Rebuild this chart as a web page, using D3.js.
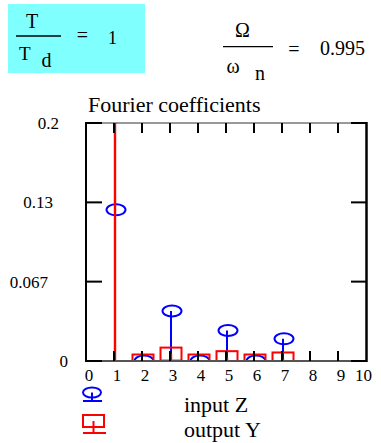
<!DOCTYPE html>
<html>
<head>
<meta charset="utf-8">
<script src="https://cdn.jsdelivr.net/npm/d3@7"></script>
<style>
  body { margin: 0; background: #fff; }
  svg { display: block; }
</style>
</head>
<body>
<svg id="chart" width="381" height="443"></svg>
<script>
// Harmonic numbers and Fourier coefficient magnitudes
const harmonics = [1, 2, 3, 4, 5, 6, 7];
const inputZ = [0.127, 0, 0.042, 0, 0.0256, 0, 0.0186];
const outputY = [1.0, 0, 0.0058, 0, 0.0028, 0, 0.0017];

// Axis ticks
const xTickValues = [0, 1, 2, 3, 4, 5, 6, 7, 8, 9, 10];
const xTickLabels = ["0", "1", "2", "3", "4", "5", "6", "7", "8", "9", "10"];
const yTickValues = [0, 0.0667, 0.1333, 0.2];
const yTickLabels = ["0", "0.067", "0.13", "0.2"];

// Parameter readouts
const periodRatio = "1";
const freqRatio = "0.995";
const chartTitle = "Fourier coefficients";
const legendNames = ["input Z", "output Y"];

// ---- layout and style ----
const FONT = "Liberation Serif";
const plot = { left: 86, right: 366, top: 123, bottom: 361 };
const BLUE = "#0000ff", RED = "#ff0000", CYAN = "#80ffff";
const yLabelRight = [68, 48, 53, 59];   // right edge of each y tick label
const markOffset = 1;

const svg = d3.select("#chart");

const x = d3.scaleLinear().domain([0, 10]).range([plot.left, plot.right]);
const y = d3.scaleLinear().domain([0, 0.2]).range([plot.bottom, plot.top]);

function label(parent, px, py, size, str, anchor) {
  return parent.append("text")
    .attr("x", px).attr("y", py)
    .attr("font-family", FONT).attr("font-size", size)
    .attr("text-anchor", anchor || "start")
    .text(str);
}

// ---- parameter equations ----
const eq = svg.append("g").attr("fill", "#000");
eq.append("rect").attr("x", 8).attr("y", 4).attr("width", 137).attr("height", 69).attr("fill", CYAN);
label(eq, 32, 28, 20, "T", "middle");
eq.append("line").attr("x1", 16).attr("x2", 61).attr("y1", 36).attr("y2", 36).attr("stroke", "#000").attr("stroke-width", 1.3);
label(eq, 19, 60, 19, "T");
label(eq, 41.5, 66.5, 20, "d");
label(eq, 82.5, 42, 20, "=", "middle");
label(eq, 112.5, 43.5, 18, periodRatio, "middle");

label(eq, 242.5, 37, 20, "Ω", "middle");
eq.append("line").attr("x1", 223).attr("x2", 273).attr("y1", 46.7).attr("y2", 46.7).attr("stroke", "#000").attr("stroke-width", 1.3);
label(eq, 226.5, 73, 20, "ω");
label(eq, 255, 80, 20, "n");
label(eq, 294, 55.5, 20, "=", "middle");
label(eq, 320, 54.5, 20, freqRatio);

// ---- title ----
label(svg, 88, 111.5, 22, chartTitle);

// ---- clipped plot area ----
svg.append("defs").append("clipPath").attr("id", "plotClip")
  .append("rect").attr("x", plot.left).attr("y", plot.top)
  .attr("width", plot.right - plot.left + 1).attr("height", plot.bottom - plot.top);

const area = svg.append("g").attr("clip-path", "url(#plotClip)");
const zData = harmonics.map((h, i) => ({ h, v: inputZ[i] }));
const yData = harmonics.map((h, i) => ({ h, v: outputY[i] }));

// input Z: stems with ellipse markers
area.selectAll(".zStem").data(zData).join("line").attr("class", "zStem")
  .attr("x1", d => x(d.h) + markOffset).attr("x2", d => x(d.h) + markOffset)
  .attr("y1", y(0)).attr("y2", d => y(d.v))
  .attr("stroke", BLUE).attr("stroke-width", 2);
area.selectAll(".zMark").data(zData).join("ellipse").attr("class", "zMark")
  .attr("cx", d => x(d.h) + markOffset + 1).attr("cy", d => y(d.v))
  .attr("rx", 9.5).attr("ry", 5.5)
  .attr("fill", "none").attr("stroke", BLUE).attr("stroke-width", 2);

// output Y: stems with square markers (drawn over Z)
area.selectAll(".yStem").data(yData).join("line").attr("class", "yStem")
  .attr("x1", d => x(d.h) + markOffset).attr("x2", d => x(d.h) + markOffset)
  .attr("y1", y(0)).attr("y2", d => y(d.v))
  .attr("stroke", RED).attr("stroke-width", 2.4);
area.selectAll(".yMark").data(yData).join("rect").attr("class", "yMark")
  .attr("x", d => x(d.h) + markOffset - 10.5).attr("y", d => y(d.v) - 6.5)
  .attr("width", 21).attr("height", 13)
  .attr("fill", "none").attr("stroke", RED).attr("stroke-width", 2);

// ---- frame ----
const frame = svg.append("g");
frame.append("line").attr("x1", plot.left).attr("x2", plot.right).attr("y1", plot.top).attr("y2", plot.top)
  .attr("stroke", "#333").attr("stroke-width", 1);
frame.append("line").attr("x1", plot.left).attr("x2", plot.right).attr("y1", plot.bottom).attr("y2", plot.bottom)
  .attr("stroke", "#555").attr("stroke-width", 2);
frame.append("line").attr("x1", plot.left).attr("x2", plot.left).attr("y1", plot.top - 1).attr("y2", plot.bottom + 1)
  .attr("stroke", "#000").attr("stroke-width", 2);
frame.append("line").attr("x1", plot.right + 0.5).attr("x2", plot.right + 0.5).attr("y1", plot.top - 1).attr("y2", plot.bottom + 1)
  .attr("stroke", "#000").attr("stroke-width", 2.5);

// x ticks (top and bottom, inner)
const innerX = xTickValues.filter(v => v > 0 && v < 10);
frame.selectAll(".xtb").data(innerX).join("line").attr("class", "xtb")
  .attr("x1", d => x(d)).attr("x2", d => x(d)).attr("y1", plot.bottom).attr("y2", plot.bottom - 10)
  .attr("stroke", "#000").attr("stroke-width", 2);
frame.selectAll(".xtt").data(innerX).join("line").attr("class", "xtt")
  .attr("x1", d => x(d)).attr("x2", d => x(d)).attr("y1", plot.top).attr("y2", plot.top + 10)
  .attr("stroke", "#000").attr("stroke-width", 2);

// y ticks (left and right, inner)
frame.selectAll(".ytl").data(yTickValues).join("line").attr("class", "ytl")
  .attr("x1", plot.left).attr("x2", plot.left + 16).attr("y1", d => y(d)).attr("y2", d => y(d))
  .attr("stroke", "#000").attr("stroke-width", 2);
frame.selectAll(".ytr").data(yTickValues).join("line").attr("class", "ytr")
  .attr("x1", plot.right + 1).attr("x2", plot.right - 15).attr("y1", d => y(d)).attr("y2", d => y(d))
  .attr("stroke", "#000").attr("stroke-width", 2);

// tick labels
svg.selectAll(".xl").data(xTickValues).join("text").attr("class", "xl")
  .attr("x", (d, i) => i === xTickValues.length - 1 ? x(d) - 2.5 : x(d) + 3)
  .attr("y", 381).attr("text-anchor", "middle")
  .attr("font-family", FONT).attr("font-size", 17)
  .text((d, i) => xTickLabels[i]);
svg.selectAll(".yl").data(yTickValues).join("text").attr("class", "yl")
  .attr("x", (d, i) => yLabelRight[i]).attr("y", d => y(d) + 6)
  .attr("text-anchor", "end")
  .attr("font-family", FONT).attr("font-size", 17)
  .text((d, i) => yTickLabels[i]);

// ---- legend ----
const lg = svg.append("g");
lg.append("ellipse").attr("cx", 92).attr("cy", 392.5).attr("rx", 9).attr("ry", 5)
  .attr("fill", "none").attr("stroke", BLUE).attr("stroke-width", 2);
lg.append("line").attr("x1", 92).attr("x2", 92).attr("y1", 392.5).attr("y2", 401).attr("stroke", BLUE).attr("stroke-width", 2);
lg.append("line").attr("x1", 83).attr("x2", 102).attr("y1", 401).attr("y2", 401).attr("stroke", BLUE).attr("stroke-width", 2);
label(lg, 184, 411.5, 22, legendNames[0]);

lg.append("rect").attr("x", 83).attr("y", 415).attr("width", 21).attr("height", 12)
  .attr("fill", "none").attr("stroke", RED).attr("stroke-width", 2);
lg.append("line").attr("x1", 93.5).attr("x2", 93.5).attr("y1", 421).attr("y2", 433).attr("stroke", RED).attr("stroke-width", 2);
lg.append("line").attr("x1", 83).attr("x2", 106).attr("y1", 433).attr("y2", 433).attr("stroke", RED).attr("stroke-width", 2);
label(lg, 184, 436.5, 22, legendNames[1]);
</script>
</body>
</html>
